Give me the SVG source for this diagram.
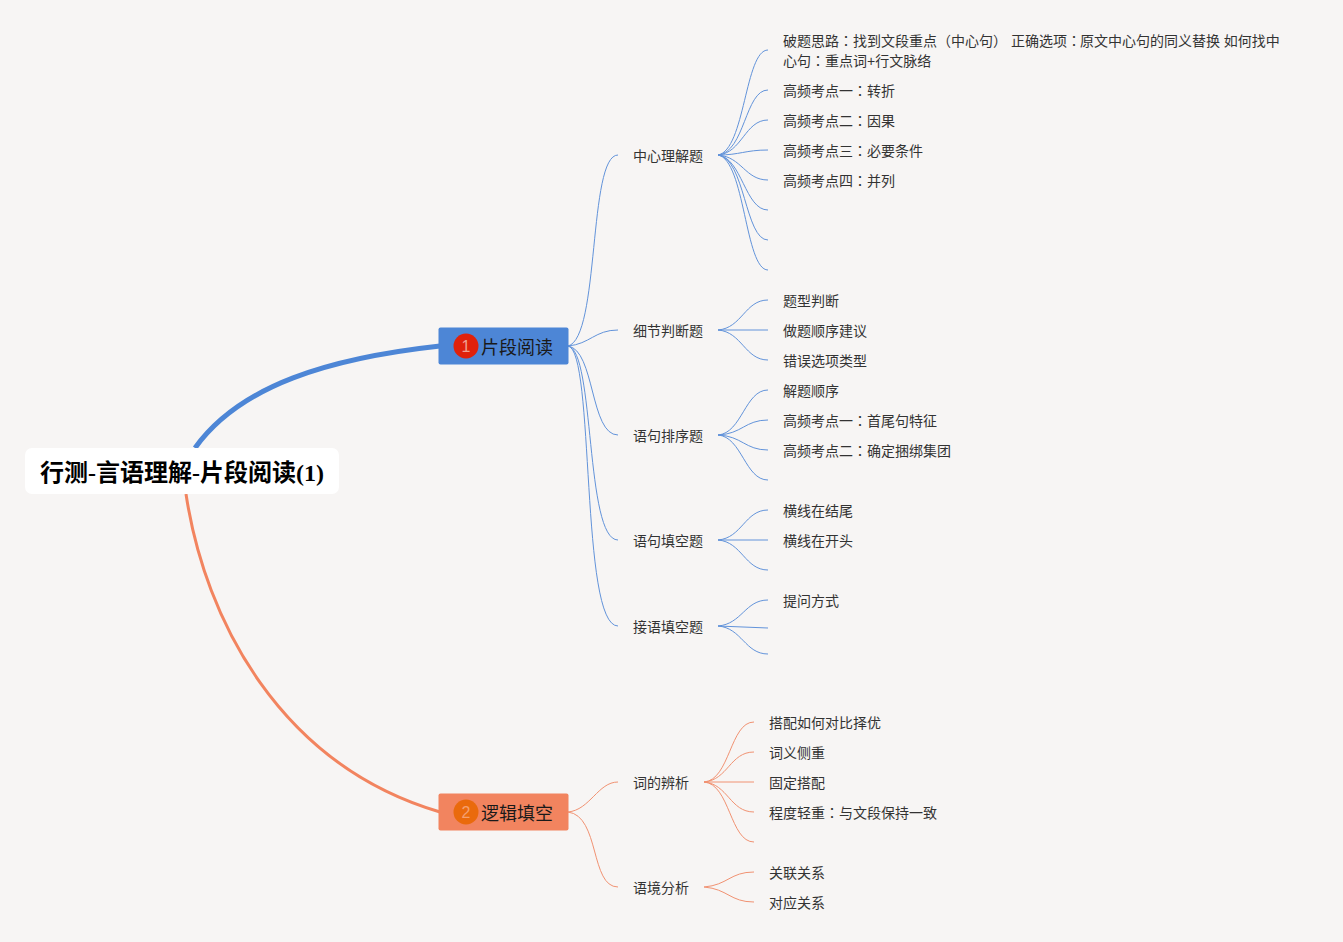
<svg xmlns="http://www.w3.org/2000/svg" width="1343" height="942" viewBox="0 0 1343 942">
<style>
text{font-family:"Liberation Sans","Noto Sans CJK SC",sans-serif;fill:#333;font-size:14px}
tspan.c{font-family:"Noto Sans CJK TC",sans-serif}
.root{font-family:"Liberation Serif","Noto Sans CJK SC",serif;font-size:24px;font-weight:700;fill:#000}
.main{font-size:18px;fill:#1a1a1a}
.badge{font-size:16px;text-anchor:middle}
.b{fill:none;stroke:#6293da;stroke-width:1}
.o{fill:none;stroke:#f19272;stroke-width:1}
</style>
<rect width="1343" height="942" fill="#f7f5f4"/>
<g id="connectors">
<path d="M195 448C240 385 330 358 440 346" fill="none" stroke="#4d86d6" stroke-width="5"/>
<path d="M186 494C205 620 280 765 440 812" fill="none" stroke="#f2845f" stroke-width="3"/>
<path class="b" d="M568 346C600 338 588 155 618 155"/>
<path class="b" d="M568 346C590 344 595 330 618 330"/>
<path class="b" d="M568 346C595 350 590 435 618 435"/>
<path class="b" d="M568 346C595 350 585 540 618 540"/>
<path class="b" d="M568 346C595 350 580 626 618 626"/>
<path class="o" d="M568 812C590 810 598 782 618 782"/>
<path class="o" d="M568 812C600 816 590 887 618 887"/>
<path class="b" d="M718 155C745 150 745 50 768 50"/>
<path class="b" d="M718 155C745 152 745 90 768 90"/>
<path class="b" d="M718 155C742 153 745 120 768 120"/>
<path class="b" d="M718 155C740 155 745 150 768 150"/>
<path class="b" d="M718 155C742 157 745 180 768 180"/>
<path class="b" d="M718 155C742 158 745 210 768 210"/>
<path class="b" d="M718 155C745 158 745 240 768 240"/>
<path class="b" d="M718 155C745 160 745 270 768 270"/>
<path class="b" d="M718 330C742 328 745 300 768 300"/>
<path class="b" d="M718 330L768 330"/>
<path class="b" d="M718 330C742 332 745 360 768 360"/>
<path class="b" d="M718 435C742 433 745 390 768 390"/>
<path class="b" d="M718 435C742 434 745 420 768 420"/>
<path class="b" d="M718 435C742 436 745 450 768 450"/>
<path class="b" d="M718 435C742 437 745 480 768 480"/>
<path class="b" d="M718 540C742 538 745 510 768 510"/>
<path class="b" d="M718 540L768 540"/>
<path class="b" d="M718 540C742 542 745 570 768 570"/>
<path class="b" d="M718 626C742 624 745 600 768 600"/>
<path class="b" d="M718 626L768 628"/>
<path class="b" d="M718 626C742 628 745 654 768 654"/>
<path class="o" d="M704 782C730 780 730 722 754 722"/>
<path class="o" d="M704 782C728 780 730 752 754 752"/>
<path class="o" d="M704 782L754 782"/>
<path class="o" d="M704 782C728 784 730 812 754 812"/>
<path class="o" d="M704 782C730 784 730 842 754 842"/>
<path class="o" d="M704 887C728 885 730 872 754 872"/>
<path class="o" d="M704 887C728 889 730 902 754 902"/>
</g>
<g id="root"><rect x="25" y="448" width="314" height="46" rx="7" fill="#fff"/><text class="root" x="40" y="481">行测-言语理解-片段阅读(1)</text></g>
<g id="n1"><rect x="438.5" y="327.5" width="130" height="37" rx="2" fill="#4d86d6"/><circle cx="466" cy="346" r="12.5" fill="#e0210b"/><text class="badge" x="466" y="352" style="fill:#f0a090">1</text><text class="main" x="481" y="354">片段阅读</text></g>
<g id="n2"><rect x="438.5" y="793.5" width="130" height="37" rx="2" fill="#f2845f"/><circle cx="466" cy="812" r="12.5" fill="#ea6a0c"/><text class="badge" x="466" y="818" style="fill:#f5a070">2</text><text class="main" x="481" y="820">逻辑填空</text></g>
<g id="t1"><text x="633" y="161">中心理解题</text></g>
<g id="t1a"><text x="783" y="46">破题思路<tspan class="c">：</tspan>找到文段重点（中心句） 正确选项<tspan class="c">：</tspan><tspan dx="-1">原文中心句的同义替换 如何找中</tspan></text><text x="783" y="66">心句<tspan class="c">：</tspan>重点词+行文脉络</text></g>
<g id="t1b"><text x="783" y="96">高频考点一<tspan class="c">：</tspan>转折</text></g>
<g id="t1c"><text x="783" y="126">高频考点二<tspan class="c">：</tspan>因果</text></g>
<g id="t1d"><text x="783" y="156">高频考点三<tspan class="c">：</tspan>必要条件</text></g>
<g id="t1e"><text x="783" y="186">高频考点四<tspan class="c">：</tspan>并列</text></g>
<g id="t2"><text x="633" y="336">细节判断题</text></g>
<g id="t2a"><text x="783" y="306">题型判断</text></g>
<g id="t2b"><text x="783" y="336">做题顺序建议</text></g>
<g id="t2c"><text x="783" y="366">错误选项类型</text></g>
<g id="t3"><text x="633" y="441">语句排序题</text></g>
<g id="t3a"><text x="783" y="396">解题顺序</text></g>
<g id="t3b"><text x="783" y="426">高频考点一<tspan class="c">：</tspan>首尾句特征</text></g>
<g id="t3c"><text x="783" y="456">高频考点二<tspan class="c">：</tspan>确定捆绑集团</text></g>
<g id="t4"><text x="633" y="546">语句填空题</text></g>
<g id="t4a"><text x="783" y="516">横线在结尾</text></g>
<g id="t4b"><text x="783" y="546">横线在开头</text></g>
<g id="t5"><text x="633" y="632">接语填空题</text></g>
<g id="t5a"><text x="783" y="606">提问方式</text></g>
<g id="t6"><text x="633" y="788">词的辨析</text></g>
<g id="t6a"><text x="769" y="728">搭配如何对比择优</text></g>
<g id="t6b"><text x="769" y="758">词义侧重</text></g>
<g id="t6c"><text x="769" y="788">固定搭配</text></g>
<g id="t6d"><text x="769" y="818">程度轻重<tspan class="c">：</tspan>与文段保持一致</text></g>
<g id="t7"><text x="633" y="893">语境分析</text></g>
<g id="t7a"><text x="769" y="878">关联关系</text></g>
<g id="t7b"><text x="769" y="908">对应关系</text></g>
</svg>
